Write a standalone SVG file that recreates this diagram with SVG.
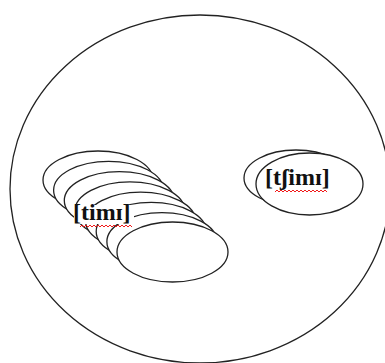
<svg xmlns="http://www.w3.org/2000/svg" width="385" height="363" viewBox="0 0 385 363">
<style>
.o{fill:none;stroke:#222;stroke-width:1.3}
.e{fill:#fff;stroke:#222;stroke-width:1.3}
.t{font-family:"Liberation Serif","Times New Roman",serif;font-size:24px;font-weight:bold;fill:#111}
.sq{fill:none;stroke:#e00;stroke-width:0.9}
</style>
<rect width="385" height="363" fill="#fff"/>
<g id="outer"><ellipse class="o" cx="200" cy="189" rx="190" ry="174"/></g>
<g id="stack">
<ellipse class="e" cx="98" cy="180" rx="55" ry="29"/>
<ellipse class="e" cx="108.6" cy="190.3" rx="55" ry="29"/>
<ellipse class="e" cx="119.3" cy="200.6" rx="55" ry="29"/>
<ellipse class="e" cx="129.9" cy="210.9" rx="55" ry="29"/>
<ellipse class="e" cx="140.6" cy="221.1" rx="55" ry="29"/>
<ellipse class="e" cx="151.2" cy="231.4" rx="55" ry="29"/>
<ellipse class="e" cx="161.9" cy="241.7" rx="55" ry="29"/>
<ellipse class="e" cx="172.5" cy="252" rx="55.5" ry="30"/>
</g>
<g id="label-left">
<rect x="74" y="205" width="60" height="19" fill="#fff"/>
<text class="t" x="73" y="220">[timɪ]</text>
<polyline class="sq" points="80,227 82,225 84,227 86,225 88,227 90,225 92,227 94,225 96,227 98,225 100,227 102,225 104,227 106,225 108,227 110,225 112,227 114,225 116,227 118,225 120,227 122,225 124,227 126,225 128,227 130,225 132,227"/>
</g>
<g id="pair">
<ellipse class="e" cx="296" cy="178" rx="52" ry="28"/>
<ellipse class="e" cx="309.5" cy="184" rx="53.5" ry="31"/>
</g>
<g id="label-right">
<text class="t" x="265" y="185">[tʃimɪ]</text>
<polyline class="sq" points="275,192 277,190 279,192 281,190 283,192 285,190 287,192 289,190 291,192 293,190 295,192 297,190 299,192 301,190 303,192 305,190 307,192 309,190 311,192 313,190 315,192 317,190 319,192 321,190 323,192 325,190 327,192"/>
</g>
</svg>
